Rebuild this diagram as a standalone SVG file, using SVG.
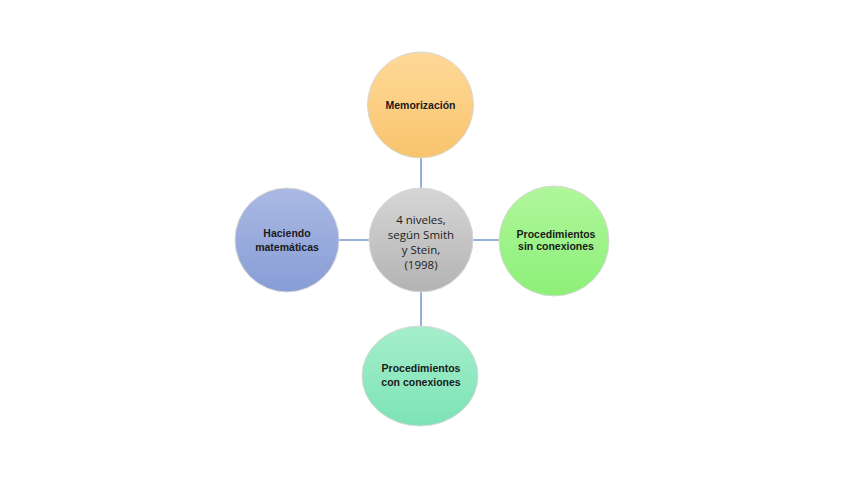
<svg xmlns="http://www.w3.org/2000/svg" width="848" height="477" viewBox="0 0 848 477">
<defs>
<linearGradient id="gO" x1="0" y1="0" x2="0" y2="1"><stop offset="0" stop-color="#FFD999"/><stop offset="1" stop-color="#F8C46C"/></linearGradient>
<linearGradient id="gG" x1="0" y1="0" x2="0" y2="1"><stop offset="0" stop-color="#D6D6D6"/><stop offset="1" stop-color="#B3B3B3"/></linearGradient>
<linearGradient id="gB" x1="0" y1="0" x2="0" y2="1"><stop offset="0" stop-color="#AAB9E3"/><stop offset="1" stop-color="#889DD6"/></linearGradient>
<linearGradient id="gL" x1="0" y1="0" x2="0" y2="1"><stop offset="0" stop-color="#B0F69C"/><stop offset="1" stop-color="#8CF078"/></linearGradient>
<linearGradient id="gT" x1="0" y1="0" x2="0" y2="1"><stop offset="0" stop-color="#A6EECB"/><stop offset="1" stop-color="#7CE3B6"/></linearGradient>
</defs>
<style>
.n{stroke:#d8d8d8;stroke-width:1}
.t{font-family:"Liberation Sans",Arial,sans-serif;font-weight:bold;font-size:10.5px;fill:#1a1a1a;text-anchor:middle}
.c{font-family:"Open Sans","Liberation Sans",sans-serif;font-size:11.5px;fill:#222222;text-anchor:middle}
.e{stroke:#5B86C5;stroke-width:1.3;fill:none}
</style>
<rect width="848" height="477" fill="#ffffff"/>
<g id="connectors">
<line class="e" x1="421" y1="158" x2="421" y2="188"/>
<line class="e" x1="421" y1="292" x2="421" y2="327"/>
<line class="e" x1="339" y1="240" x2="369" y2="240"/>
<line class="e" x1="473" y1="240" x2="499" y2="240"/>
</g>
<g id="top">
<circle class="n" cx="420.5" cy="105" r="53" fill="url(#gO)"/>
<text class="t" x="420.5" y="109">Memorización</text>
</g>
<g id="center">
<circle class="n" cx="421" cy="240" r="52" fill="url(#gG)"/>
<text class="c" x="421" y="224">4 niveles,</text>
<text class="c" x="421" y="239">según Smith</text>
<text class="c" x="421" y="254">y Stein,</text>
<text class="c" x="421" y="269">(1998)</text>
</g>
<g id="left">
<circle class="n" cx="287" cy="240" r="52" fill="url(#gB)"/>
<text class="t" x="287" y="237">Haciendo</text>
<text class="t" x="287" y="251">matemáticas</text>
</g>
<g id="right">
<circle class="n" cx="554" cy="241" r="55" fill="url(#gL)"/>
<text class="t" x="556" y="238">Procedimientos</text>
<text class="t" x="556" y="250">sin conexiones</text>
</g>
<g id="bottom">
<ellipse class="n" cx="420" cy="376" rx="58" ry="50" fill="url(#gT)"/>
<text class="t" x="421" y="372">Procedimientos</text>
<text class="t" x="421" y="386">con conexiones</text>
</g>
</svg>
